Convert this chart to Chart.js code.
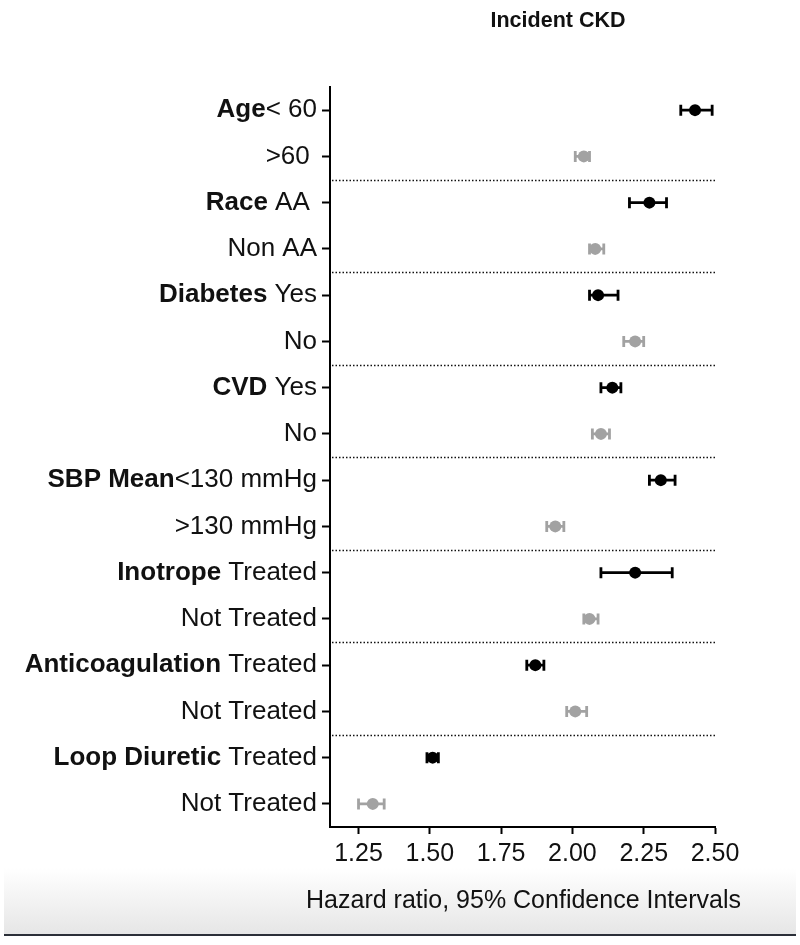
<!DOCTYPE html>
<html><head><meta charset="utf-8">
<script src="https://cdn.jsdelivr.net/npm/chart.js@4.4.1/dist/chart.umd.min.js"></script>
<style>html,body{margin:0;padding:0;background:#fff}canvas{display:block}</style>
</head><body>
<canvas id="c" width="800" height="945"></canvas>
<script>
const chartTitle = 'Incident CKD';
const xAxisTitle = 'Hazard ratio, 95% Confidence Intervals';
const groupNames = ['Age','','Race','','Diabetes','','CVD','','SBP Mean','','Inotrope','','Anticoagulation','','Loop Diuretic',''];
const subLabels = ['< 60','>60 ',' AA ','Non AA',' Yes','No',' Yes','No','<130 mmHg','>130 mmHg',' Treated','Not Treated',' Treated','Not Treated',' Treated','Not Treated'];
const hazardRatio = [2.43,2.04,2.27,2.08,2.09,2.22,2.14,2.10,2.31,1.94,2.22,2.06,1.87,2.01,1.51,1.30];
const ciLower     = [2.38,2.01,2.20,2.06,2.06,2.18,2.10,2.07,2.27,1.91,2.10,2.04,1.84,1.98,1.49,1.25];
const ciUpper     = [2.49,2.06,2.33,2.11,2.16,2.25,2.17,2.13,2.36,1.97,2.35,2.09,1.90,2.05,1.53,1.34];
const xTickValues = [1.25,1.50,1.75,2.00,2.25,2.50];

const FAMILY = '"Liberation Sans", Arial, Helvetica, sans-serif';
const BLACK = '#000000', GRAY = '#a2a2a2';
const colors = hazardRatio.map((v,i) => (i % 2 === 0 ? BLACK : GRAY));
const LABEL_SIZE = 26, TICK_LEN_Y = 8, TICK_PAD_Y = 5;

const decorPlugin = {
  id: 'decor',
  beforeDraw(chart) {
    const ctx = chart.ctx;
    ctx.save();
    const g = ctx.createLinearGradient(0, 868, 0, 934);
    g.addColorStop(0, 'rgba(255,255,255,1)');
    g.addColorStop(1, '#e6e6e6');
    ctx.fillStyle = g;
    ctx.fillRect(4, 868, 792, 66);
    ctx.fillStyle = '#2b2f38';
    ctx.fillRect(4, 934, 792, 2);
    ctx.restore();
  },
  beforeDatasetsDraw(chart) {
    const {ctx, chartArea, scales: {x, y}} = chart;
    ctx.save();
    ctx.strokeStyle = '#111';
    ctx.lineWidth = 1.5;
    ctx.setLineDash([1.5, 2]);
    for (let i = 1; i < subLabels.length - 1; i += 2) {
      const py = Math.round((y.getPixelForValue(i) + y.getPixelForValue(i + 1)) / 2) + 0.5;
      ctx.beginPath();
      ctx.moveTo(chartArea.left + 2, py);
      ctx.lineTo(chartArea.right + 2, py);
      ctx.stroke();
    }
    ctx.setLineDash([]);
    hazardRatio.forEach((v, i) => {
      const py = y.getPixelForValue(i);
      const x0 = x.getPixelForValue(ciLower[i]);
      const x1 = x.getPixelForValue(ciUpper[i]);
      ctx.strokeStyle = colors[i];
      ctx.lineWidth = 2.8;
      ctx.beginPath();
      ctx.moveTo(x0, py); ctx.lineTo(x1, py);
      ctx.moveTo(x0, py - 5.5); ctx.lineTo(x0, py + 5.5);
      ctx.moveTo(x1, py - 5.5); ctx.lineTo(x1, py + 5.5);
      ctx.stroke();
    });
    ctx.restore();
  },
  afterDraw(chart) {
    const {ctx, chartArea, scales: {y}} = chart;
    ctx.save();
    ctx.fillStyle = '#111';
    ctx.textBaseline = 'middle';
    ctx.textAlign = 'right';
    groupNames.forEach((name, i) => {
      if (!name) return;
      ctx.font = `${LABEL_SIZE}px ${FAMILY}`;
      const w = ctx.measureText(subLabels[i]).width;
      const xr = y.right - TICK_LEN_Y - TICK_PAD_Y - w;
      ctx.font = `bold ${LABEL_SIZE}px ${FAMILY}`;
      ctx.fillText(name, xr, y.getPixelForValue(i));
    });
    ctx.textAlign = 'center';
    ctx.font = `25px ${FAMILY}`;
    ctx.fillText(xAxisTitle, (chartArea.left + chartArea.right) / 2 + 1, 901);
    ctx.font = `bold 21.5px ${FAMILY}`;
    ctx.fillText(chartTitle, 558, 21);
    ctx.restore();
  }
};

new Chart(document.getElementById('c'), {
  type: 'scatter',
  data: {
    datasets: [{
      data: hazardRatio.map((v, i) => ({x: v, y: i})),
      backgroundColor: colors,
      borderColor: colors,
      pointRadius: 6,
      pointBorderWidth: 0,
      pointHoverRadius: 6,
      showLine: false
    }]
  },
  options: {
    responsive: false,
    animation: false,
    events: [],
    layout: {padding: {top: 87, right: 85, bottom: 0, left: 0}},
    plugins: {legend: {display: false}, tooltip: {enabled: false}, title: {display: false}},
    scales: {
      x: {
        type: 'linear', position: 'bottom', min: 1.15, max: 2.5,
        afterBuildTicks: s => { s.ticks = xTickValues.map(v => ({value: v})); },
        afterFit: s => { s.height = 118; },
        ticks: {callback: v => Number(v).toFixed(2), font: {family: FAMILY, size: 25}, color: '#111', padding: 5, maxRotation: 0, autoSkip: false},
        grid: {drawOnChartArea: false, drawTicks: true, tickLength: 7, tickWidth: 2, tickColor: '#000'},
        border: {display: true, color: '#000', width: 2},
        title: {display: false, text: xAxisTitle}
      },
      y: {
        type: 'category', labels: subLabels, offset: true, position: 'left',
        afterFit: s => { s.width = 330; },
        ticks: {font: {family: FAMILY, size: LABEL_SIZE}, color: '#111', padding: TICK_PAD_Y, autoSkip: false},
        grid: {drawOnChartArea: false, offset: false, tickLength: TICK_LEN_Y, tickWidth: 2, tickColor: '#000'},
        border: {display: true, color: '#000', width: 2}
      }
    }
  },
  plugins: [decorPlugin]
});
</script>
</body></html>
